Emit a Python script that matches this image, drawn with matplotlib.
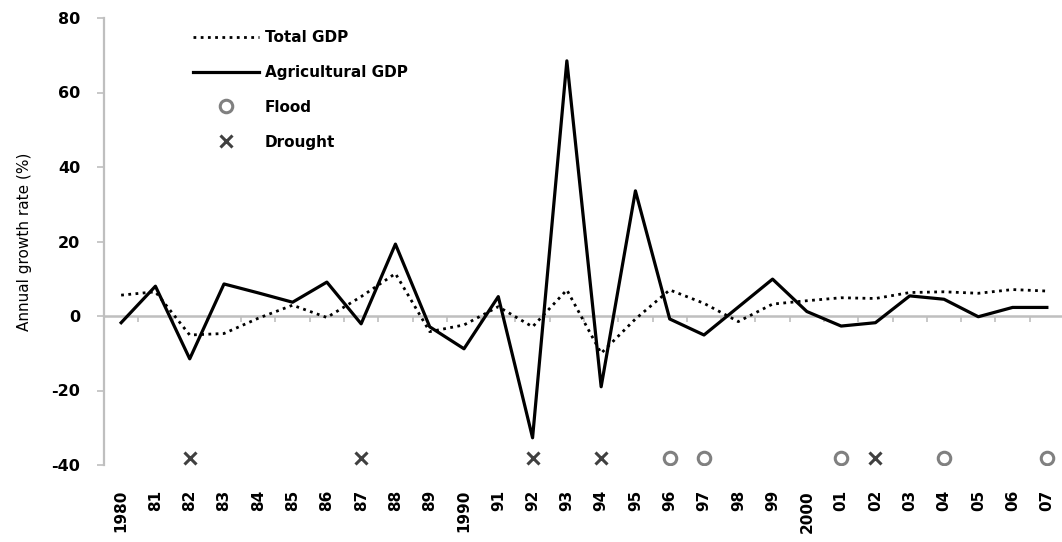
import matplotlib
matplotlib.use("Agg")
import matplotlib.pyplot as plt
import matplotlib.ticker as mticker
import numpy as np

plt.rcParams["axes.unicode_minus"] = False

# category axis: 1980..2007, Excel-style short labels
years = list(range(1980, 2008))
year_labels = ["1980", "81", "82", "83", "84", "85", "86", "87", "88", "89",
               "1990", "91", "92", "93", "94", "95", "96", "97", "98", "99",
               "2000", "01", "02", "03", "04", "05", "06", "07"]

# annual growth rates (%)
total_gdp = [5.6, 6.5, -5.1, -4.7, -0.6, 2.9, -0.4, 5.2, 11.4, -4.2,
             -2.4, 2.5, -2.9, 7.0, -10.0, -0.8, 7.0, 3.4, -1.5, 3.2,
             4.1, 4.9, 4.7, 6.3, 6.5, 6.1, 7.1, 6.7]
agri_gdp = [-1.8, 8.0, -11.5, 8.6, 6.2, 3.7, 9.1, -2.1, 19.3, -2.9,
            -8.8, 5.2, -32.7, 68.5, -19.0, 33.6, -0.8, -5.1, 2.4, 9.9,
            1.2, -2.7, -1.8, 5.4, 4.5, -0.2, 2.3, 2.3]

# disaster years, shown as markers along the bottom
drought_years = [1982, 1987, 1992, 1994, 2002]
flood_years = [1996, 1997, 2001, 2004, 2007]
marker_level = -38

GRID = "#bfbfbf"

fig = plt.figure(figsize=(10.62, 5.42), dpi=100)
ax = fig.add_axes([104 / 1062, 77 / 542, 960 / 1062, 447 / 542])

x = np.arange(len(years))
ax.plot(x, total_gdp, color="black", lw=2.0, ls=(0, (1, 1.6)), label="Total GDP")
ax.plot(x, agri_gdp, color="black", lw=2.3, label="Agricultural GDP")
fx = [years.index(y) for y in flood_years]
dx = [years.index(y) for y in drought_years]
ax.plot(fx, [marker_level] * len(fx), ls="none", marker="o", ms=9,
        mfc="none", mec="#808080", mew=2.2, label="Flood")
ax.plot(dx, [marker_level] * len(dx), ls="none", marker="x", ms=9,
        mec="#404040", mew=2.2, label="Drought")

ax.set_xlim(-0.5, len(years) - 0.5)
ax.set_ylim(-40, 80)
ax.set_yticks(np.arange(-40, 81, 20))

for s in ("top", "right"):
    ax.spines[s].set_visible(False)
ax.spines["left"].set_color(GRID)
ax.spines["left"].set_linewidth(1.6)
ax.spines["bottom"].set_position(("data", 0))
ax.spines["bottom"].set_color(GRID)
ax.spines["bottom"].set_linewidth(1.8)
ax.spines["bottom"].set_zorder(0)

# category boundary ticks on the zero line, no labels
ax.xaxis.set_major_locator(mticker.FixedLocator(x[:-1] + 0.5))
ax.tick_params(axis="x", length=4, width=1.2, color=GRID, labelbottom=False)
ax.tick_params(axis="y", length=5, width=1.2, color=GRID, pad=12,
               labelsize=11.5)
for t in ax.get_yticklabels():
    t.set_fontweight("bold")

# year labels at the bottom of the plot area
sec = ax.secondary_xaxis("bottom")
sec.set_xticks(x)
sec.set_xticklabels(year_labels, rotation=90, fontsize=11, fontweight="bold")
sec.tick_params(length=0, pad=18)
sec.spines["bottom"].set_visible(False)

ax.set_ylabel("Annual growth rate (%)", fontsize=11, labelpad=14)

ax.legend(loc="upper left", bbox_to_anchor=(193 / 1062, 1 - 30 / 542),
          bbox_transform=fig.transFigure, frameon=False, borderpad=0,
          borderaxespad=0, handlelength=4.3, handletextpad=0.4,
          labelspacing=1.3, prop={"weight": "bold", "size": 11})

fig.savefig("out.png", dpi=100)
